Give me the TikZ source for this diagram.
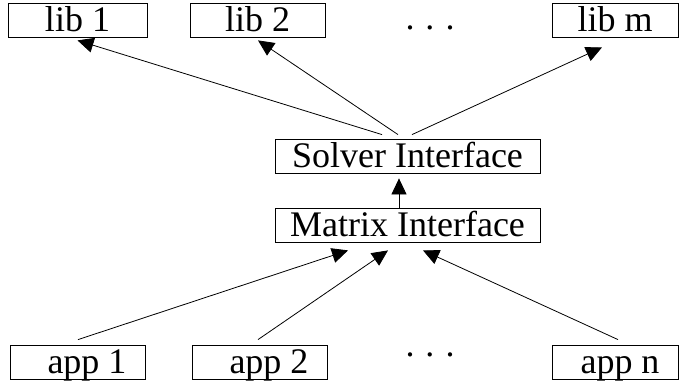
\documentclass[tikz,border=0pt]{standalone}
\usepackage{fontspec}
\setmainfont{Liberation Serif}
\usetikzlibrary{arrows.meta,calc}
\begin{document}
\begin{tikzpicture}[x=1pt,y=1pt,
  box/.style={draw=black, line width=0.8pt, inner sep=0pt, minimum height=34pt,
    text height=27pt, text depth=4pt, font=\fontsize{36}{40}\selectfont},
  arr/.style={line width=0.8pt, -{Triangle[length=16pt,width=15pt]}},
  dotrow/.style={anchor=base, inner sep=0pt, font=\fontsize{36}{40}\selectfont}]
\useasboundingbox (0,0) rectangle (680,381);
% top row
\node[box, minimum width=139pt] (lib1) at (77.5,361) {lib 1};
\node[box, minimum width=135pt] (lib2) at (257.5,361) {lib 2};
\node[box, minimum width=126pt] (libm) at (615,361) {lib m};
\node[dotrow] (topdots) at (430,351) {.\hspace{11pt}.\hspace{11pt}.};
% middle
\node[box, minimum width=265pt] (solver) at (407.5,225) {Solver Interface};
\node[box, minimum width=265pt] (matrix) at (407.5,156) {Matrix Interface};
% bottom row
\node[box, minimum width=135pt] (app1) at (77.5,19) {\hspace*{19pt}app 1};
\node[box, minimum width=135pt] (app2) at (259.5,19) {\hspace*{19pt}app 2};
\node[box, minimum width=126pt] (appn) at (615,19) {\hspace*{10pt}app n};
\node[dotrow] (botdots) at (430,25) {.\hspace{11pt}.\hspace{11pt}.};
% connectors
\draw[arr] ($(solver.north)+(-25.5,4)$) -- ($(lib1.south)+(0,-3)$);
\draw[arr] ($(solver.north)+(-9.5,4)$) -- ($(lib2.south)+(0.5,-3)$);
\draw[arr] ($(solver.north)+(4.5,4)$) -- ($(libm.south)+(-13,-10)$);
\draw[arr] ($(matrix.north)+(-8.5,0)$) -- ($(solver.south)+(-8.5,-5)$);
\draw[arr] ($(app1.north)+(0.5,5)$) -- ($(matrix.south)+(-59.5,-8)$);
\draw[arr] ($(app2.north)+(-1.5,5)$) -- ($(matrix.south)+(-19.5,-8)$);
\draw[arr] ($(appn.north)+(3,5)$) -- ($(matrix.south)+(15.5,-8)$);
\end{tikzpicture}
\end{document}
